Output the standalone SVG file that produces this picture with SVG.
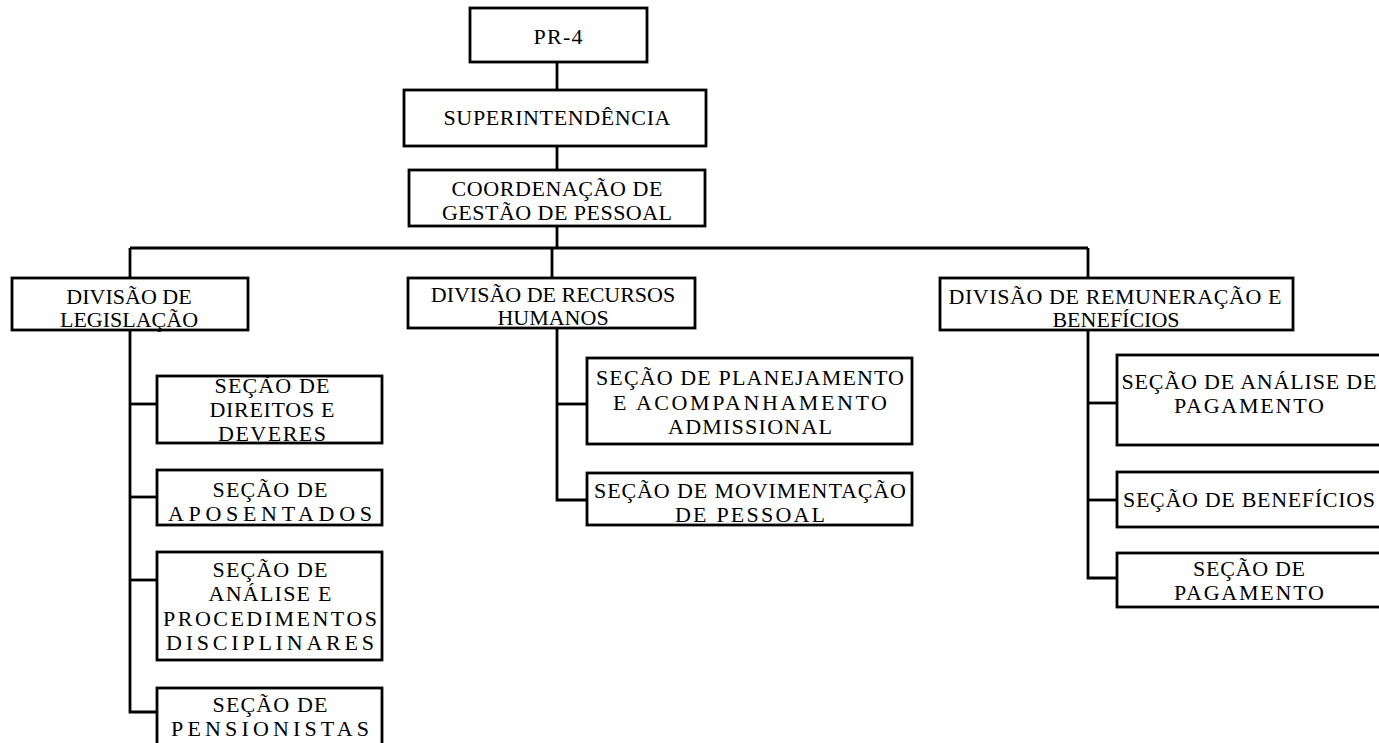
<svg xmlns="http://www.w3.org/2000/svg" width="1379" height="743" viewBox="0 0 1379 743">
  <style>
    .box { fill: #ffffff; stroke: #000000; stroke-width: 2.8; }
    .wire { fill: none; stroke: #000000; stroke-width: 2.8; }
    text { font-family: "Liberation Serif", "Times New Roman", serif; font-size: 22px; fill: #000000; text-anchor: middle; }
  </style>
  <rect width="1379" height="743" fill="#ffffff"/>

  <!-- connectors -->
  <g id="connectors" class="wire">
    <path d="M557 62 V248"/>
    <path d="M130 248 H1088"/>
    <path d="M130 248 V278"/>
    <path d="M552 248 V278"/>
    <path d="M1088 248 V278"/>
    <!-- Divisão de Legislação -->
    <path d="M130 330 V712 H157"/>
    <path d="M130 404 H157"/>
    <path d="M130 497 H157"/>
    <path d="M130 580 H157"/>
    <!-- Divisão de Recursos Humanos -->
    <path d="M557 328 V500 H587"/>
    <path d="M557 404 H587"/>
    <!-- Divisão de Remuneração e Benefícios -->
    <path d="M1088 330 V578 H1117"/>
    <path d="M1088 403 H1117"/>
    <path d="M1088 500 H1117"/>
  </g>

  <g id="pr4">
    <rect class="box" x="470" y="8" width="177" height="54"/>
    <text x="558" y="44" textLength="49" lengthAdjust="spacing">PR-4</text>
  </g>
  <g id="superintendencia">
    <rect class="box" x="404" y="90" width="302" height="56"/>
    <text x="557" y="125" textLength="227" lengthAdjust="spacing">SUPERINTENDÊNCIA</text>
  </g>
  <g id="coordenacao">
    <rect class="box" x="409" y="170" width="296" height="56"/>
    <text x="557" y="196" textLength="211" lengthAdjust="spacing">COORDENAÇÃO DE</text>
    <text x="557" y="220" textLength="230" lengthAdjust="spacing">GESTÃO DE PESSOAL</text>
  </g>

  <g id="div-legislacao">
    <rect class="box" x="12" y="278" width="236" height="52"/>
    <text x="129" y="304">DIVISÃO DE</text>
    <text x="129" y="327">LEGISLAÇÃO</text>
  </g>
  <g id="div-rh">
    <rect class="box" x="408" y="278" width="287" height="50"/>
    <text x="553" y="302">DIVISÃO DE RECURSOS</text>
    <text x="553" y="325">HUMANOS</text>
  </g>
  <g id="div-remuneracao">
    <rect class="box" x="940" y="278" width="353" height="52"/>
    <text x="1115" y="304" textLength="333" lengthAdjust="spacing">DIVISÃO DE REMUNERAÇÃO E</text>
    <text x="1116" y="327">BENEFÍCIOS</text>
  </g>

  <g id="sec-direitos">
    <rect class="box" x="157" y="376" width="225" height="67"/>
    <text x="272" y="393" textLength="115" lengthAdjust="spacing">SEÇÃO DE</text>
    <text x="272" y="417" textLength="125" lengthAdjust="spacing">DIREITOS E</text>
    <text x="272" y="441" textLength="108" lengthAdjust="spacing">DEVERES</text>
  </g>
  <g id="sec-aposentados">
    <rect class="box" x="157" y="470" width="225" height="55"/>
    <text x="270" y="497" textLength="115" lengthAdjust="spacing">SEÇÃO DE</text>
    <text x="270" y="521" textLength="204" lengthAdjust="spacing">APOSENTADOS</text>
  </g>
  <g id="sec-analise-proc">
    <rect class="box" x="157" y="552" width="225" height="108"/>
    <text x="270" y="577" textLength="115" lengthAdjust="spacing">SEÇÃO DE</text>
    <text x="270" y="601" textLength="123" lengthAdjust="spacing">ANÁLISE E</text>
    <text x="270" y="626" textLength="214" lengthAdjust="spacing">PROCEDIMENTOS</text>
    <text x="270" y="650" textLength="208" lengthAdjust="spacing">DISCIPLINARES</text>
  </g>
  <g id="sec-pensionistas">
    <rect class="box" x="157" y="688" width="225" height="60"/>
    <text x="270" y="712" textLength="115" lengthAdjust="spacing">SEÇÃO DE</text>
    <text x="270" y="736" textLength="198" lengthAdjust="spacing">PENSIONISTAS</text>
  </g>

  <g id="sec-planejamento">
    <rect class="box" x="587" y="358" width="325" height="86"/>
    <text x="750" y="385" textLength="308" lengthAdjust="spacing">SEÇÃO DE PLANEJAMENTO</text>
    <text x="750" y="410" textLength="274" lengthAdjust="spacing">E ACOMPANHAMENTO</text>
    <text x="750" y="434" textLength="164" lengthAdjust="spacing">ADMISSIONAL</text>
  </g>
  <g id="sec-movimentacao">
    <rect class="box" x="587" y="473" width="325" height="52"/>
    <text x="750" y="498" textLength="312" lengthAdjust="spacing">SEÇÃO DE MOVIMENTAÇÃO</text>
    <text x="750" y="522" textLength="150" lengthAdjust="spacing">DE PESSOAL</text>
  </g>

  <g id="sec-analise-pagamento">
    <rect class="box" x="1117" y="355" width="270" height="90"/>
    <text x="1249" y="389" textLength="255" lengthAdjust="spacing">SEÇÃO DE ANÁLISE DE</text>
    <text x="1249" y="413" textLength="150" lengthAdjust="spacing">PAGAMENTO</text>
  </g>
  <g id="sec-beneficios">
    <rect class="box" x="1117" y="472" width="270" height="55"/>
    <text x="1249" y="507" textLength="252" lengthAdjust="spacing">SEÇÃO DE BENEFÍCIOS</text>
  </g>
  <g id="sec-pagamento">
    <rect class="box" x="1117" y="553" width="270" height="54"/>
    <text x="1249" y="576" textLength="112" lengthAdjust="spacing">SEÇÃO DE</text>
    <text x="1249" y="600" textLength="150" lengthAdjust="spacing">PAGAMENTO</text>
  </g>
</svg>
